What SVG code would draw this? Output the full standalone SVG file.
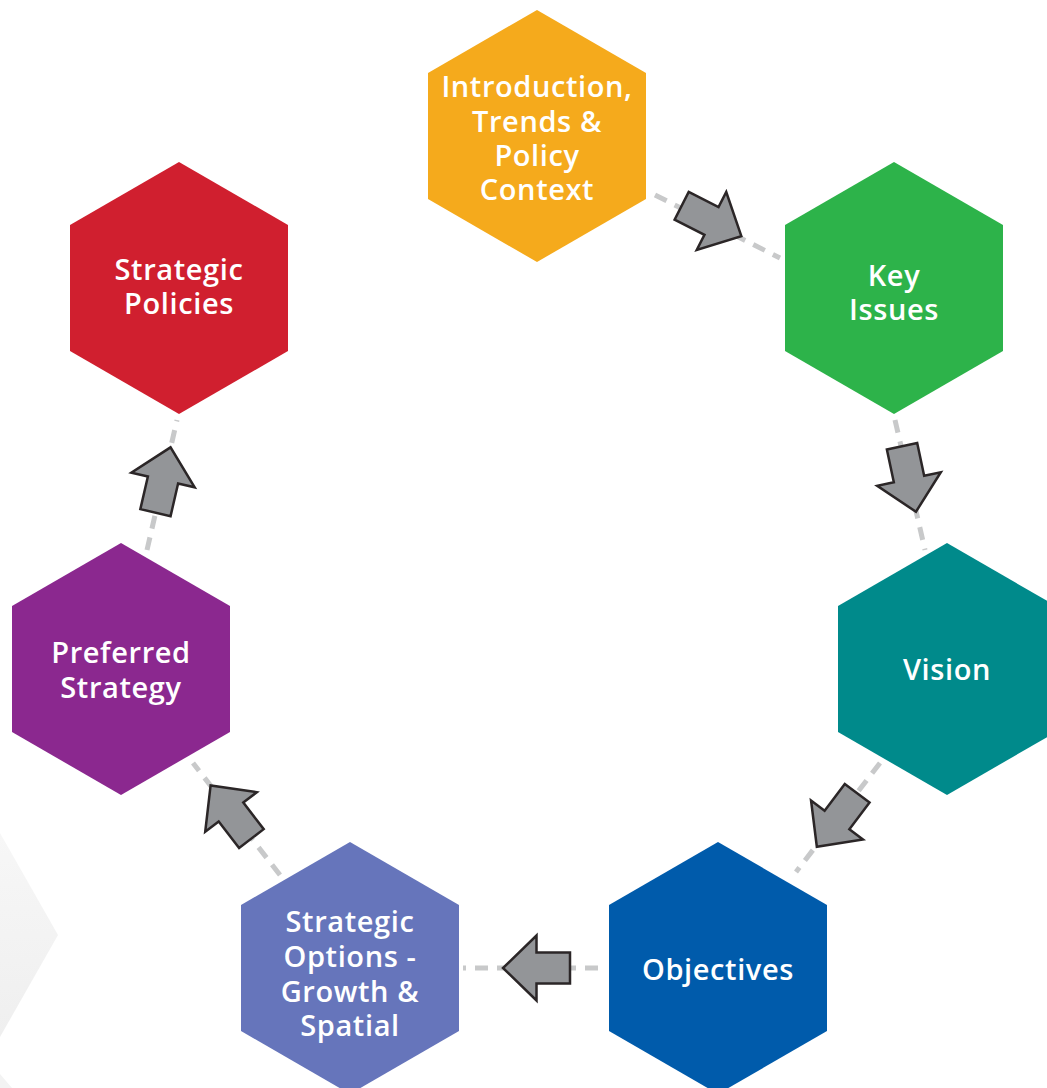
<svg xmlns="http://www.w3.org/2000/svg" width="1047" height="1088" viewBox="0 0 1047 1088">
<defs>
<style>
.hex{stroke:none}
.lbl{font-family:"Open Sans","Liberation Sans",sans-serif;font-weight:600;font-size:29px;letter-spacing:0.6px;fill:#ffffff;text-anchor:middle}
.dash{stroke:#c8c9ca;stroke-width:5;stroke-dasharray:13 9;fill:none}
.arr{fill:#939598;stroke:#2b2627;stroke-width:2.5;stroke-linejoin:miter}
</style>
<polygon id="hexshape" points="0,-126 109,-63 109,63 0,126 -109,63 -109,-63"/>
<polygon id="arrow" points="-33.5,-15.5 0,-15.5 0,-32.5 33.5,0 0,32.5 0,15.5 -33.5,15.5"/>
<linearGradient id="bg" x1="0" y1="0" x2="0" y2="1">
<stop offset="0" stop-color="#f7f7f7"/>
<stop offset="1" stop-color="#efefef"/>
</linearGradient>
</defs>
<rect width="1047" height="1088" fill="#ffffff"/>
<polygon points="0,833 58,935 0,1037" fill="url(#bg)"/>
<polygon points="0,1074 12,1088 0,1088" fill="#f3f3f3"/>

<g id="connectors">
<line class="dash" x1="655" y1="195" x2="780" y2="258"/>
<line class="dash" x1="895" y1="420" x2="925" y2="550"/>
<line class="dash" x1="880" y1="763" x2="796" y2="872"/>
<line class="dash" x1="598" y1="968" x2="463" y2="968"/>
<line class="dash" x1="280" y1="875" x2="193" y2="763"/>
<line class="dash" x1="147" y1="550" x2="177" y2="420"/>
<use href="#arrow" class="arr" transform="translate(711.5,221) rotate(27)"/>
<use href="#arrow" class="arr" transform="translate(909,479) rotate(78)"/>
<use href="#arrow" class="arr" transform="translate(837,820) rotate(127)"/>
<use href="#arrow" class="arr" transform="translate(536.5,968) rotate(180)"/>
<use href="#arrow" class="arr" transform="translate(231,812) rotate(232.5)"/>
<use href="#arrow" class="arr" transform="translate(163,480) rotate(-77)"/>
</g>

<g id="intro">
<use href="#hexshape" class="hex" fill="#f5aa1c" transform="translate(537,136)"/>
<text class="lbl" x="537" y="97">Introduction,</text>
<text class="lbl" x="537" y="132">Trends &amp;</text>
<text class="lbl" x="537" y="166">Policy</text>
<text class="lbl" x="537" y="200">Context</text>
</g>
<g id="keyissues">
<use href="#hexshape" class="hex" fill="#2db34a" transform="translate(894,288)"/>
<text class="lbl" x="894" y="286">Key</text>
<text class="lbl" x="894" y="320">Issues</text>
</g>
<g id="vision">
<use href="#hexshape" class="hex" fill="#008a8b" transform="translate(947,669)"/>
<text class="lbl" x="947" y="680">Vision</text>
</g>
<g id="objectives">
<use href="#hexshape" class="hex" fill="#005bab" transform="translate(718,968)"/>
<text class="lbl" x="718" y="980">Objectives</text>
</g>
<g id="options">
<use href="#hexshape" class="hex" fill="#6675bb" transform="translate(350,968)"/>
<text class="lbl" x="350" y="932">Strategic</text>
<text class="lbl" x="350" y="967">Options -</text>
<text class="lbl" x="350" y="1002">Growth &amp;</text>
<text class="lbl" x="350" y="1036">Spatial</text>
</g>
<g id="preferred">
<use href="#hexshape" class="hex" fill="#8b288f" transform="translate(121,669)"/>
<text class="lbl" x="121" y="663">Preferred</text>
<text class="lbl" x="121" y="698">Strategy</text>
</g>
<g id="policies">
<use href="#hexshape" class="hex" fill="#d01f2f" transform="translate(179,288)"/>
<text class="lbl" x="179" y="280">Strategic</text>
<text class="lbl" x="179" y="314">Policies</text>
</g>
</svg>
